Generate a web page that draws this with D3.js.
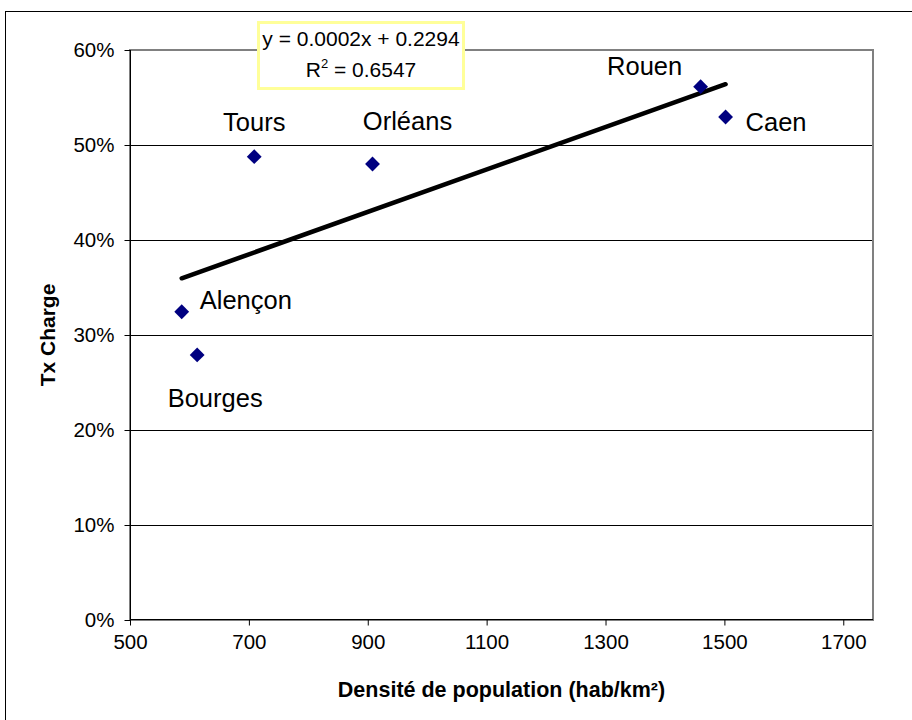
<!DOCTYPE html>
<html>
<head>
<meta charset="utf-8">
<script src="https://cdn.jsdelivr.net/npm/d3@7"></script>
<style>
  body { margin: 0; background: #fff; }
  text { font-family: "Liberation Sans", Arial, sans-serif; fill: #000; }
</style>
</head>
<body>
<script>
// data
const cities = ['Alençon', 'Bourges', 'Tours', 'Orléans', 'Rouen', 'Caen'];
const density = [587, 613, 709, 908, 1460, 1502];
const charge = [0.3245, 0.279, 0.4877, 0.480, 0.5614, 0.5295];
const xTicks = [500, 700, 900, 1100, 1300, 1500, 1700];
const yTicks = [0, 0.1, 0.2, 0.3, 0.4, 0.5, 0.6];
const equationText = 'y = 0.0002x + 0.2294';
const r2Text = ' = 0.6547';

// label placement relative to each point (layout only)
const labelPos = {
    'Alençon': { dx: 18, dy: -3, anchor: 'start' },
    'Bourges': { dx: 18, dy: 52, anchor: 'middle' },
    'Tours': { dx: 0, dy: -26, anchor: 'middle' },
    'Orléans': { dx: 35, dy: -34, anchor: 'middle' },
    'Rouen': { dx: -56, dy: -12, anchor: 'middle' },
    'Caen': { dx: 20, dy: 14, anchor: 'start' }
};

const W = 912, H = 720;
const plot = { left: 130, right: 873, top: 50, bottom: 620 };

const svg = d3.select('body').append('svg')
    .attr('width', W)
    .attr('height', H);

svg.append('rect').attr('width', W).attr('height', H).attr('fill', '#fff');

// outer chart frame (runs off the right/bottom of the picture)
svg.append('rect')
    .attr('x', 5.5).attr('y', 11.5)
    .attr('width', 1000).attr('height', 1000)
    .attr('fill', 'none')
    .attr('stroke', '#000');

const x = d3.scaleLinear().domain([500, 1750]).range([plot.left, plot.right]);
const y = d3.scaleLinear().domain([0, 0.6]).range([plot.bottom, plot.top]);

// gridlines
svg.append('g')
    .selectAll('line')
    .data(yTicks.filter(t => t > 0 && t < 0.6))
    .enter().append('line')
    .attr('x1', plot.left).attr('x2', plot.right)
    .attr('y1', d => Math.round(y(d)) + 0.5)
    .attr('y2', d => Math.round(y(d)) + 0.5)
    .attr('stroke', '#000')
    .attr('stroke-width', 1);

// plot area border
svg.append('rect')
    .attr('x', plot.left).attr('y', plot.top)
    .attr('width', plot.right - plot.left)
    .attr('height', plot.bottom - plot.top)
    .attr('fill', 'none')
    .attr('stroke', '#808080')
    .attr('stroke-width', 2);

// axes
const yAxis = svg.append('g')
    .attr('transform', `translate(${plot.left + 0.5},0)`)
    .call(d3.axisLeft(y).tickValues(yTicks).tickFormat(d3.format('.0%')).tickSize(6).tickPadding(10));
const xAxis = svg.append('g')
    .attr('transform', `translate(0,${plot.bottom - 0.5})`)
    .call(d3.axisBottom(x).tickValues(xTicks).tickFormat(d3.format('d')).tickSize(6).tickPadding(9));

[xAxis, yAxis].forEach(a => {
    a.select('.domain').remove();
    a.selectAll('line').attr('stroke', '#000');
    a.selectAll('text')
        .style('font-family', '"Liberation Sans", Arial, sans-serif')
        .style('font-size', '20.5px')
        .attr('fill', '#000');
});

svg.append('line')
    .attr('x1', plot.left + 0.5).attr('x2', plot.left + 0.5)
    .attr('y1', plot.top).attr('y2', plot.bottom)
    .attr('stroke', '#000');
svg.append('line')
    .attr('x1', plot.left).attr('x2', plot.right)
    .attr('y1', plot.bottom - 0.5).attr('y2', plot.bottom - 0.5)
    .attr('stroke', '#000');

// axis titles
svg.append('text')
    .attr('x', (plot.left + plot.right) / 2)
    .attr('y', 697)
    .attr('text-anchor', 'middle')
    .style('font-size', '21.5px')
    .style('font-weight', 'bold')
    .text('Densité de population (hab/km²)');

svg.append('text')
    .attr('transform', `translate(55,${(plot.top + plot.bottom) / 2}) rotate(-90)`)
    .attr('text-anchor', 'middle')
    .style('font-size', '21px')
    .style('font-weight', 'bold')
    .text('Tx Charge');

// linear trend line (least squares over the points)
const pts = density.map((d, i) => ({ x: d, y: charge[i], name: cities[i] }));
const mx = d3.mean(pts, p => p.x), my = d3.mean(pts, p => p.y);
const slope = d3.sum(pts, p => (p.x - mx) * (p.y - my)) / d3.sum(pts, p => (p.x - mx) ** 2);
const intercept = my - slope * mx;
const [xMin, xMax] = d3.extent(density);

svg.append('line')
    .attr('x1', x(xMin)).attr('y1', y(slope * xMin + intercept))
    .attr('x2', x(xMax)).attr('y2', y(slope * xMax + intercept))
    .attr('stroke', '#000')
    .attr('stroke-width', 4.5)
    .attr('stroke-linecap', 'round');

// markers
const diamond = d3.symbol().type(d3.symbolSquare).size(110);
svg.append('g')
    .selectAll('path')
    .data(pts)
    .enter().append('path')
    .attr('d', diamond)
    .attr('transform', d => `translate(${x(d.x)},${y(d.y)}) rotate(45)`)
    .attr('fill', '#000080');

// point labels
svg.append('g')
    .selectAll('text')
    .data(pts)
    .enter().append('text')
    .attr('x', d => x(d.x) + labelPos[d.name].dx)
    .attr('y', d => y(d.y) + labelPos[d.name].dy)
    .attr('text-anchor', d => labelPos[d.name].anchor)
    .style('font-size', '25.5px')
    .text(d => d.name);

// equation box
const eq = svg.append('g');
eq.append('rect')
    .attr('x', 258.5).attr('y', 22.5)
    .attr('width', 205).attr('height', 66)
    .attr('fill', '#fff')
    .attr('stroke', '#ffff99')
    .attr('stroke-width', 3);
eq.append('text')
    .attr('x', 361).attr('y', 46)
    .attr('text-anchor', 'middle')
    .style('font-size', '21px')
    .text(equationText);
const r2 = eq.append('text')
    .attr('x', 361).attr('y', 77)
    .attr('text-anchor', 'middle')
    .style('font-size', '21px');
r2.append('tspan').text('R');
r2.append('tspan').attr('dy', -9).style('font-size', '13px').text('2');
r2.append('tspan').attr('dy', 9).text(r2Text);
</script>
</body>
</html>
